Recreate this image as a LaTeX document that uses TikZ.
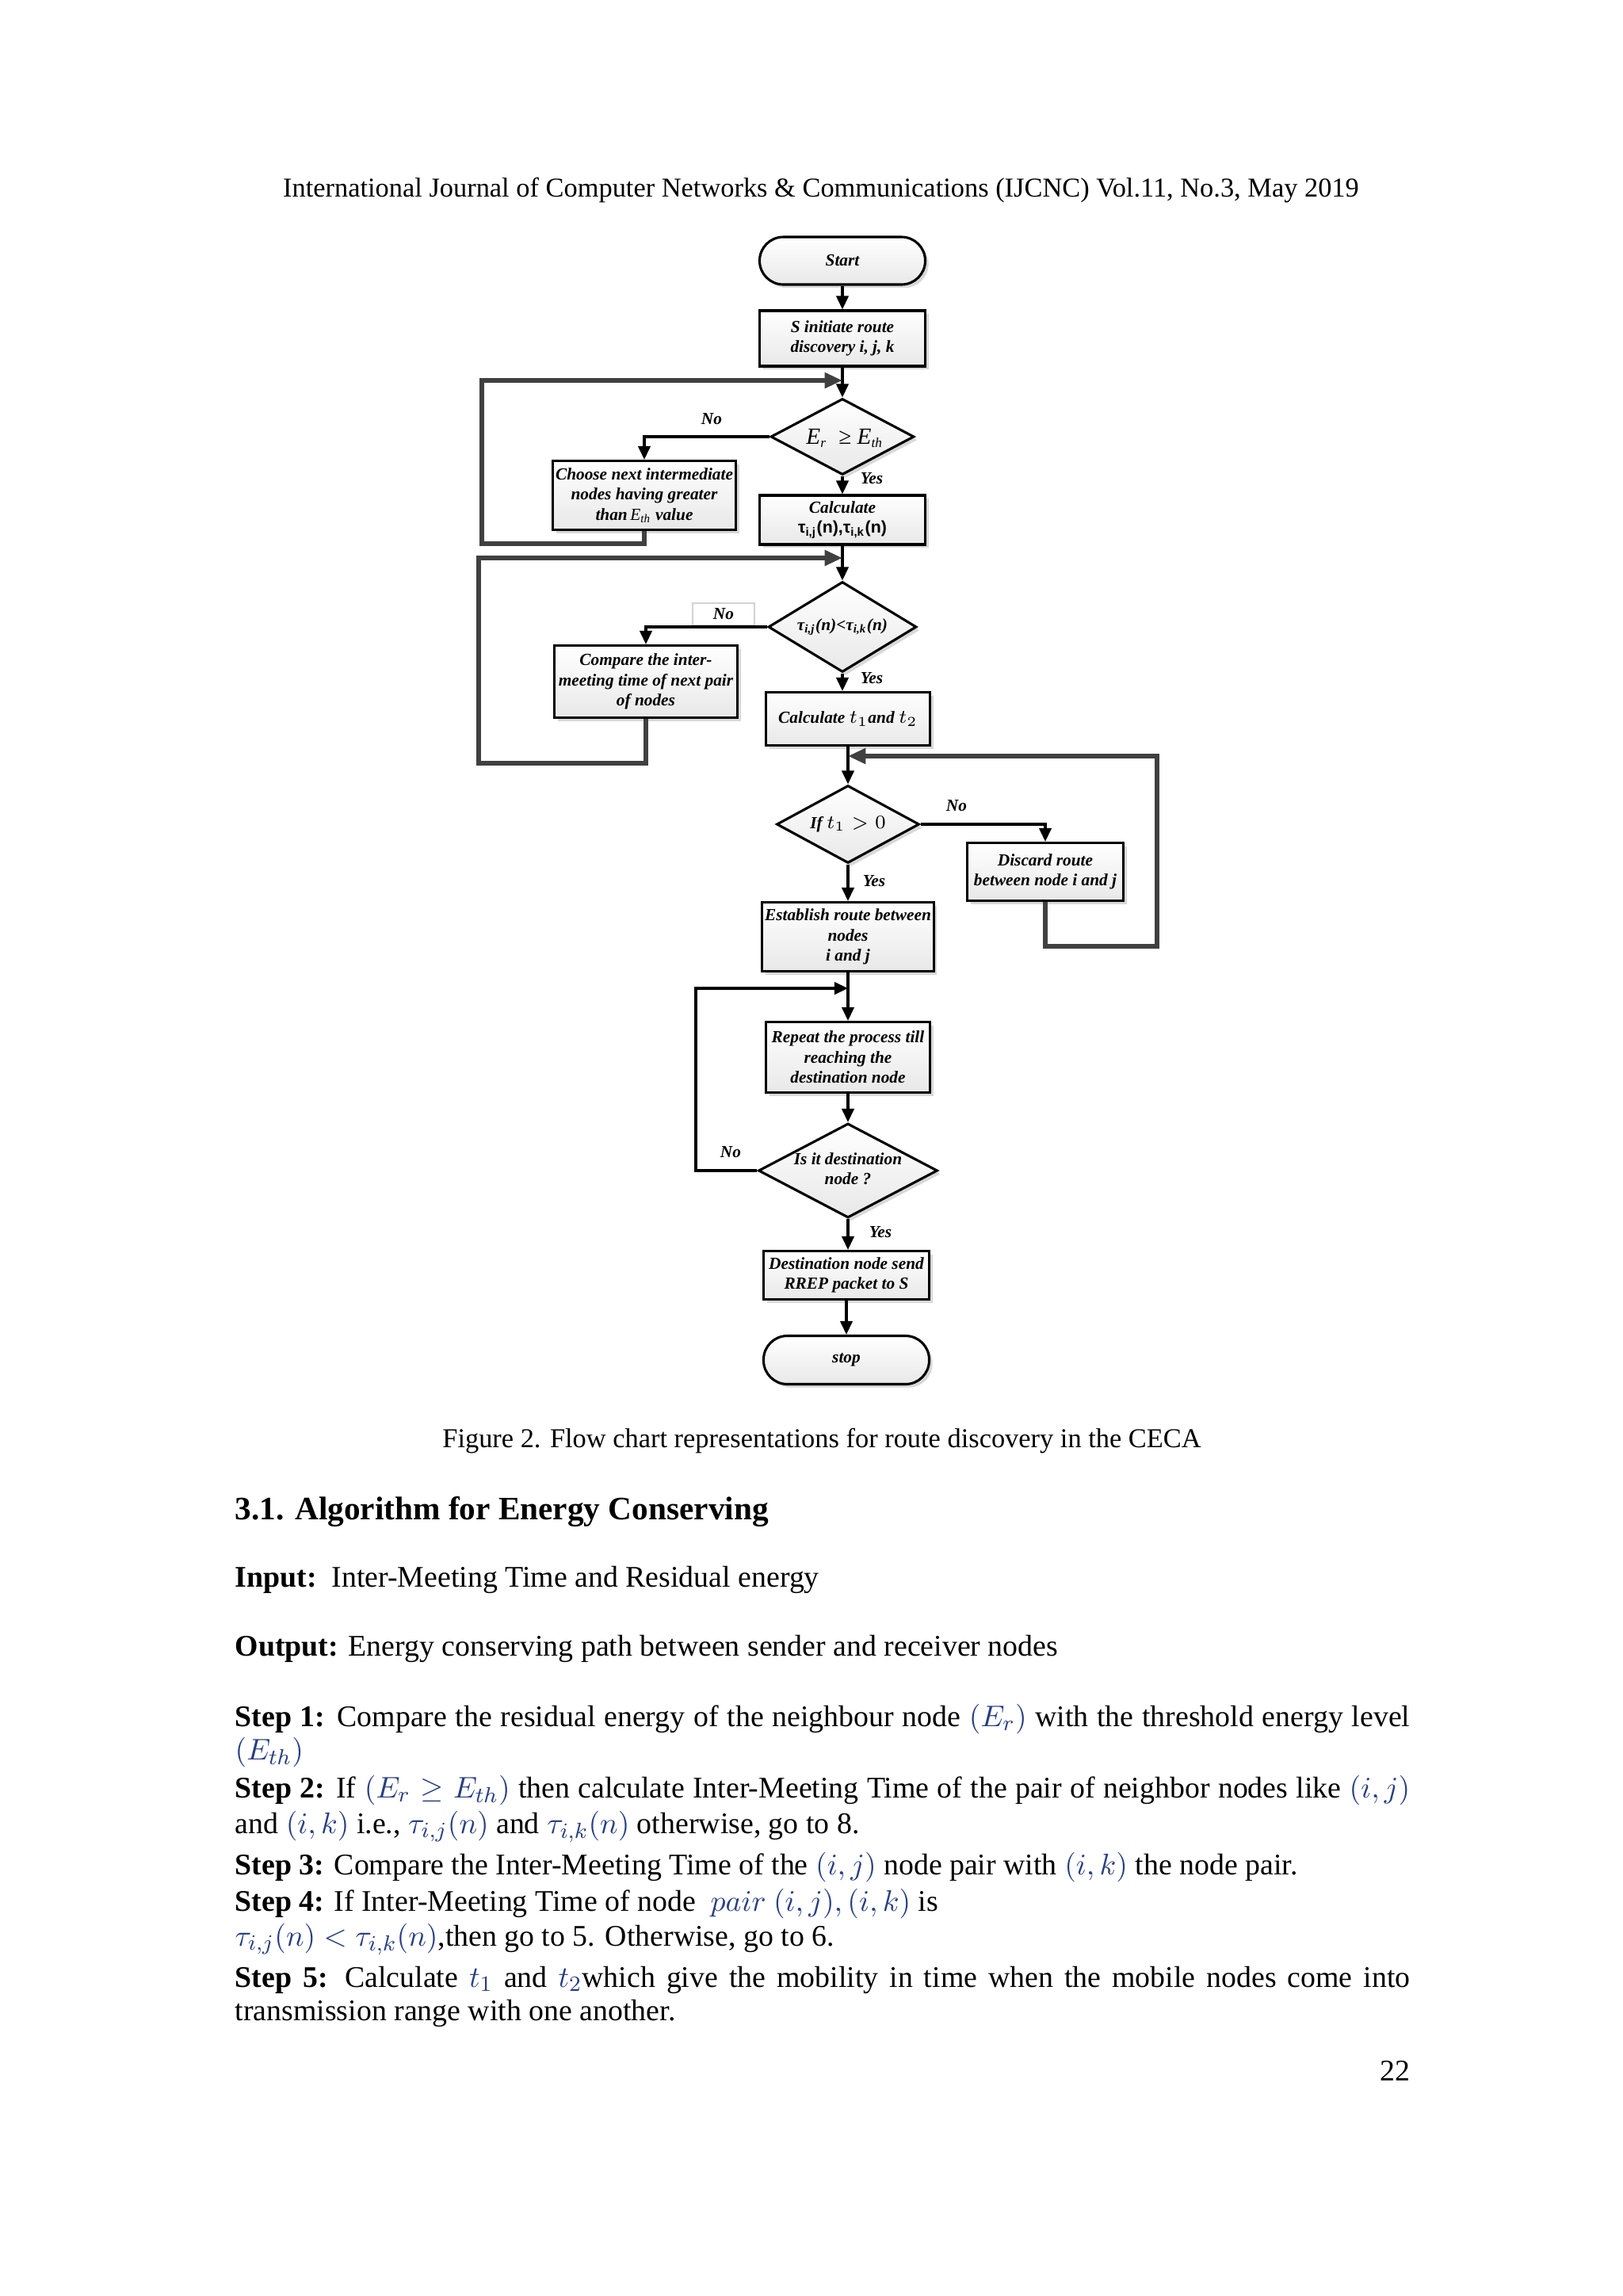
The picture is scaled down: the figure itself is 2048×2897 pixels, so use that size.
\documentclass[tikz,border=0pt]{standalone}
\usepackage{fontspec}
\setmainfont{Liberation Serif}
\setsansfont{Liberation Sans}
\usetikzlibrary{shapes.geometric,arrows.meta,shadows,calc}
\definecolor{mathblue}{RGB}{40,62,130}
\definecolor{loopgray}{RGB}{64,64,64}
\newcommand\pxu{0.2907pt}
\newcommand\fcf{\fontsize{6.2}{7.4}\selectfont\bfseries\itshape}
\newcommand\mb[1]{\textcolor{mathblue}{$#1$}}
\begin{document}
\begin{tikzpicture}[x=0.2907pt,y=-0.2907pt,
  box/.style={draw,line width=0.9pt,rectangle,top color=white,bottom color=gray!18,
    drop shadow={shadow xshift=1.2pt,shadow yshift=-1.2pt,fill=gray!60,opacity=0.5},
    align=center,font=\fcf,inner sep=1pt},
  term/.style={box,rounded corners=8.7pt},
  dec/.style={box,diamond,inner sep=0pt},
  arr/.style={line width=0.9pt,-{Triangle[length=5pt,width=4.5pt]}},
  loopln/.style={line width=1.7pt,draw=loopgray,-{Triangle[length=6.5pt,width=5.5pt,fill=loopgray]}},
  lab/.style={font=\fcf,inner sep=0pt},
  dtxt/.style={font=\fcf,inner sep=0pt,align=center},
  txt/.style={anchor=base west,inner sep=0pt,font=\fontsize{11}{13}\selectfont},
]
\useasboundingbox (0,0) rectangle (2048,2897);
\fill[white] (0,0) rectangle (2048,2897);

% header
\node[inner sep=0pt,anchor=base,font=\fontsize{10}{12}\selectfont] (hdr) at (1036,248)
  {International Journal of Computer Networks \& Communications (IJCNC) Vol.11, No.3, May 2019};

% flowchart nodes
\node[term,minimum width=209*\pxu,minimum height=60*\pxu] (start) at (1063,329) {Start};
\node[box,minimum width=209*\pxu,minimum height=70*\pxu] (sinit) at (1063,427) {S initiate route\\discovery i, j, k};
\node[dec,minimum width=181*\pxu,minimum height=96*\pxu] (d1) at (1063,551) {};
\node[dtxt] (d1t) at (1066,553) {\fontsize{8.5}{9}\selectfont\mdseries\itshape E\textsubscript{\fontsize{5}{5}\selectfont r}\ \ {\upshape ≥} E\textsubscript{\fontsize{5}{5}\selectfont th}};
\node[box,minimum width=226*\pxu,minimum height=87*\pxu] (choose) at (813,625)
  {Choose next intermediate\\nodes having greater\\than{\mdseries\,E\textsubscript{th}} value};
\node[box,minimum width=209*\pxu,minimum height=62*\pxu] (calc) at (1063,656)
  {Calculate\\{\sffamily\upshape τ\textsubscript{i,j}(n),τ\textsubscript{i,k}(n)}};
\node[dec,minimum width=187*\pxu,minimum height=114*\pxu] (d2) at (1063,791) {};
\node[dtxt] (d2t) at (1063,791) {τ\textsubscript{i,j}(n)<τ\textsubscript{i,k}(n)};
\node[box,minimum width=231*\pxu,minimum height=91*\pxu] (compare) at (815,860)
  {Compare the inter-\\meeting time of next pair\\of nodes};
\node[box,minimum width=207*\pxu,minimum height=67*\pxu] (calct) at (1070,907)
  {Calculate {\mdseries\fontsize{7.5}{8}\selectfont$t_1$}and {\mdseries\fontsize{7.5}{8}\selectfont$t_2$}};
\node[dec,minimum width=180*\pxu,minimum height=98*\pxu] (d3) at (1070,1040) {};
\node[dtxt] (d3t) at (1070,1040) {If {\mdseries\upshape\fontsize{7}{8}\selectfont$t_1>0$}};
\node[box,minimum width=197*\pxu,minimum height=73*\pxu] (discard) at (1319,1100)
  {Discard route\\between node i and j};
\node[box,minimum width=216*\pxu,minimum height=87*\pxu] (establish) at (1070,1182)
  {Establish route between\\nodes\\i and j};
\node[box,minimum width=207*\pxu,minimum height=89*\pxu] (repeat) at (1070,1334)
  {Repeat the process till\\reaching the\\destination node};
\node[dec,minimum width=226*\pxu,minimum height=119*\pxu] (d4) at (1070,1477) {};
\node[dtxt] (d4t) at (1070,1475) {Is it destination\\node ?};
\node[box,minimum width=209*\pxu,minimum height=61*\pxu] (dest) at (1068,1609)
  {Destination node send\\RREP packet to S};
\node[term,minimum width=209*\pxu,minimum height=61*\pxu] (stop) at (1068,1716) {stop};

% labels
\node[lab] (no1) at (898,529) {No};
\node[lab] (yes1) at (1100,604) {Yes};
\node[draw=gray!35,line width=0.4pt,fill=white,minimum width=78*\pxu,minimum height=28*\pxu,font=\fcf,inner sep=0pt] (no2) at (913,775) {No};
\node[lab] (yes2) at (1100,856) {Yes};
\node[lab] (no3) at (1207,1017) {No};
\node[lab] (yes3) at (1103,1112) {Yes};
\node[lab] (no4) at (922,1454) {No};
\node[lab] (yes4) at (1111,1555) {Yes};

% junction and corner coordinates
\coordinate (j1) at (1063,480);
\coordinate (c1) at (608,686);
\coordinate (j2) at (1063,704);
\coordinate (c2) at (604,963);
\coordinate (j3) at (1070,954);
\coordinate (c3) at (1460,1194);
\coordinate (j4) at (1070,1247);
\coordinate (c4) at (878,1247);

% main connectors
\draw[arr] (start) -- (sinit);
\draw[arr] (sinit) -- (d1);
\draw[arr] (d1) -- (calc);
\draw[arr] (calc) -- (d2);
\draw[arr] (d2.south) -- (d2.south |- calct.north);
\draw[arr] (calct) -- (d3);
\draw[arr] (d3) -- (establish);
\draw[arr] (establish) -- (repeat);
\draw[arr] (repeat) -- (d4);
\draw[arr] (d4.south) -- (d4.south |- dest.north);
\draw[arr] (dest.south) -- (dest.south |- stop.north);

% branches
\draw[arr] (d1.west) -| (choose.north);
\draw[arr] (d2.west) -| (compare.north);
\draw[arr] (d3.east) -| (discard.north);

% loops
\draw[loopln] (choose.south) |- (c1) |- (j1);
\draw[loopln] (compare.south) |- (c2) |- (j2);
\draw[loopln] (discard.south) |- (c3) |- (j3);
\draw[arr] (d4.west) -| (c4) -- (j4);

% caption and text
\node[inner sep=0pt,anchor=base,font=\fontsize{10}{12}\selectfont] (cap) at (1037,1826)
  {Figure 2. Flow chart representations for route discovery in the CECA};
\node[txt,font=\fontsize{12}{14}\selectfont\bfseries] (h31) at (296,1917) {3.1. Algorithm for Energy Conserving};
\node[txt] (inp) at (296,2002) {\textbf{Input:}\ \ Inter-Meeting Time and Residual energy};
\node[txt] (outp) at (296,2089) {\textbf{Output:} Energy conserving path between sender and receiver nodes};
\node[txt] (s1a) at (296,2178) {\makebox[431pt][s]{\textbf{Step 1:} Compare the residual energy of the neighbour node \mb{(E_r)} with the threshold energy level}};
\node[txt] (s1b) at (296,2220) {\mb{(E_{th})}};
\node[txt] (s2a) at (296,2268) {\makebox[431pt][s]{\textbf{Step 2:} If \mb{(E_r\geq E_{th})} then calculate Inter-Meeting Time of the pair of neighbor nodes like \mb{(i,j)}}};
\node[txt] (s2b) at (296,2313) {and \mb{(i,k)} i.e., \mb{\tau_{i,j}(n)} and \mb{\tau_{i,k}(n)} otherwise, go to 8.};
\node[txt] (s3) at (296,2365) {\textbf{Step 3:} Compare the Inter-Meeting Time of the \mb{(i,j)} node pair with \mb{(i,k)} the node pair.};
\node[txt] (s4a) at (296,2411) {\textbf{Step 4:} If Inter-Meeting Time of node \ \mb{pair\ (i,j),(i,k)} is};
\node[txt] (s4b) at (296,2455) {\mb{\tau_{i,j}(n)<\tau_{i,k}(n)},then go to 5. Otherwise, go to 6.};
\node[txt] (s5a) at (296,2507) {\makebox[431pt][s]{\textbf{Step 5:} Calculate \mb{t_1} and \mb{t_2}which give the mobility in time when the mobile nodes come into}};
\node[txt] (s5b) at (296,2549) {transmission range with one another.};
\node[inner sep=0pt,anchor=base east,font=\fontsize{11}{13}\selectfont] (pg) at (1780,2625) {22};
\end{tikzpicture}
\end{document}
